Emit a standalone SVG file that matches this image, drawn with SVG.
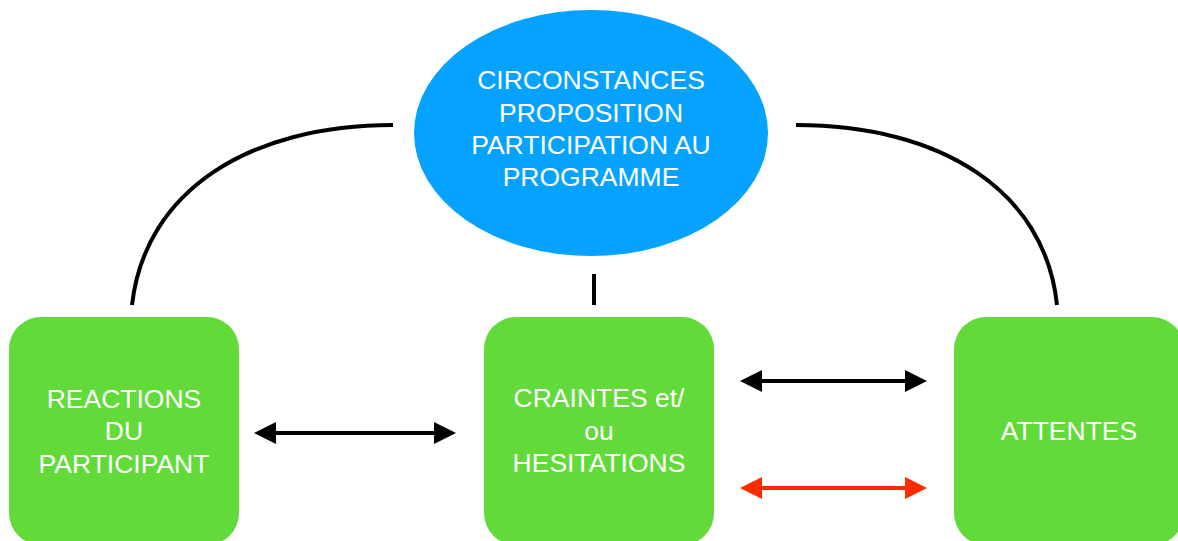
<svg xmlns="http://www.w3.org/2000/svg" width="1178" height="541" viewBox="0 0 1178 541">
<style>
.box{fill:#62DA3A}
.ell{fill:#05A3FF}
.lbl{font-family:"Liberation Sans",Arial,sans-serif;font-size:26.5px;fill:#fff;text-anchor:middle}
.curve{fill:none;stroke:#000;stroke-width:4}
.arr{fill:none;stroke:#000;stroke-width:4}
.arr-red{fill:none;stroke:#FF2A00;stroke-width:4}
</style>
<defs>
<marker id="hb" markerUnits="userSpaceOnUse" markerWidth="22" markerHeight="22" refX="12" refY="11" orient="auto-start-reverse">
<path d="M0,0 L22,11 L0,22 z" fill="#000"/>
</marker>
<marker id="hr" markerUnits="userSpaceOnUse" markerWidth="22" markerHeight="22" refX="12" refY="11" orient="auto-start-reverse">
<path d="M0,0 L22,11 L0,22 z" fill="#FF2A00"/>
</marker>
</defs>
<rect width="1178" height="541" fill="#fff"/>
<g id="connectors">
<path class="curve" d="M393,125 C250,125 145,190 132,305"/>
<path class="curve" d="M796,125 C940,125 1045,190 1057,305"/>
<line class="curve" x1="594" y1="274" x2="594" y2="305"/>
<line class="arr" x1="264" y1="433" x2="446" y2="433" marker-start="url(#hb)" marker-end="url(#hb)"/>
<line class="arr" x1="750" y1="381" x2="917" y2="381" marker-start="url(#hb)" marker-end="url(#hb)"/>
<line class="arr-red" x1="750" y1="488" x2="917" y2="488" marker-start="url(#hr)" marker-end="url(#hr)"/>
</g>
<g id="circonstances">
<ellipse class="ell" cx="591" cy="133" rx="177" ry="123"/>
<text class="lbl" x="591" y="89">CIRCONSTANCES</text>
<text class="lbl" x="591" y="122">PROPOSITION</text>
<text class="lbl" x="591" y="154">PARTICIPATION AU</text>
<text class="lbl" x="591" y="186">PROGRAMME</text>
</g>
<g id="reactions">
<rect class="box" x="9" y="317" width="230" height="228" rx="32"/>
<text class="lbl" x="124" y="408">REACTIONS</text>
<text class="lbl" x="124" y="440">DU</text>
<text class="lbl" x="124" y="473">PARTICIPANT</text>
</g>
<g id="craintes">
<rect class="box" x="484" y="317" width="230" height="228" rx="32"/>
<text class="lbl" x="599" y="407">CRAINTES et/</text>
<text class="lbl" x="599" y="440">ou</text>
<text class="lbl" x="599" y="472">HESITATIONS</text>
</g>
<g id="attentes">
<rect class="box" x="954" y="317" width="230" height="228" rx="32"/>
<text class="lbl" x="1069" y="440">ATTENTES</text>
</g>
</svg>
